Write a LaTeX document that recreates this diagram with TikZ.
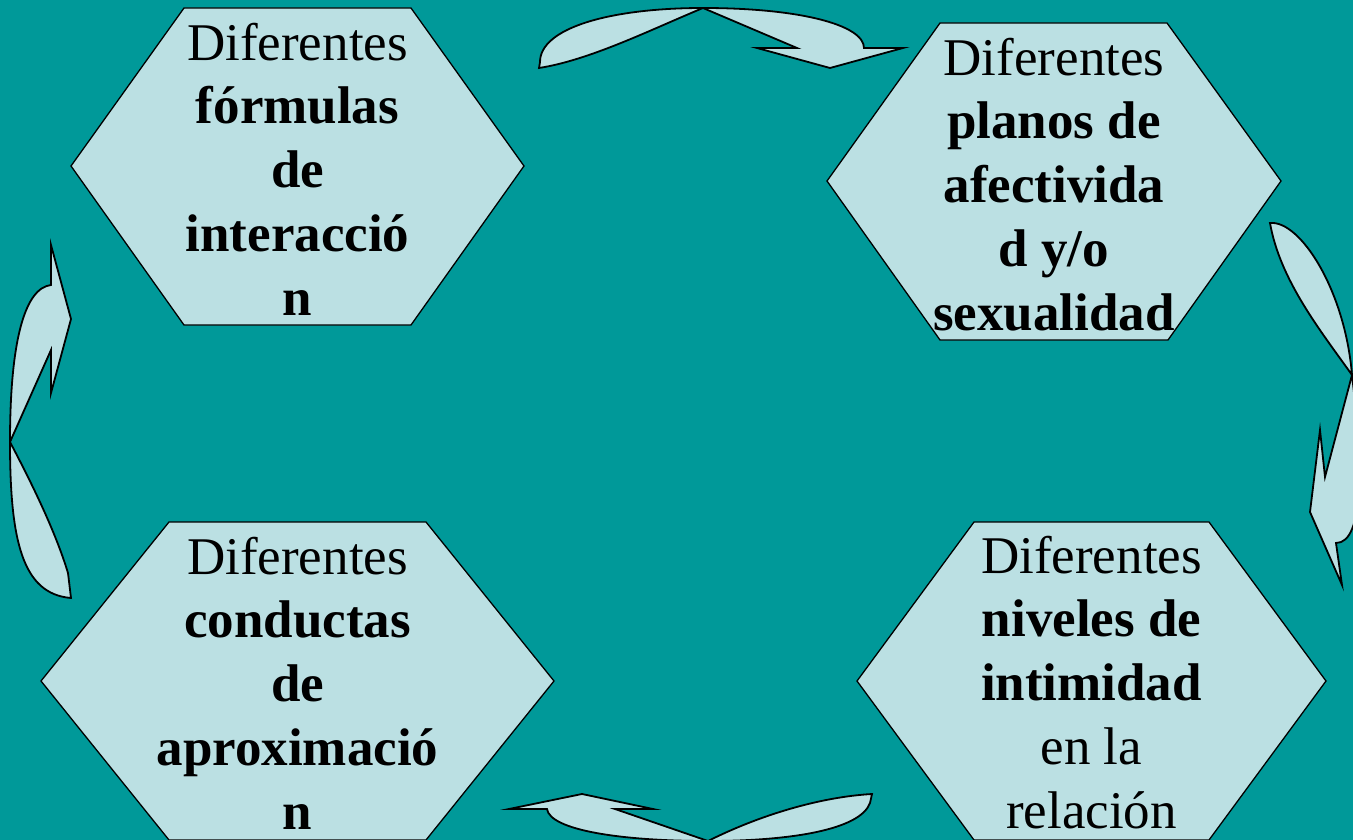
\documentclass[tikz,border=0pt]{standalone}
\usepackage{fontspec}
\setmainfont{Liberation Serif}
\definecolor{bgteal}{HTML}{009999}
\definecolor{shapefill}{HTML}{BBE0E3}
\begin{document}
\begin{tikzpicture}[x=1pt,y=-1pt,
  hexa/.style={fill=shapefill,draw=black,line width=1.3pt,line join=miter},
  arr/.style={fill=shapefill,draw=black,line width=1.8pt,line join=miter},
  lbl/.style={anchor=base,align=center,inner sep=0pt,font=\fontsize{53}{63.8}\selectfont}]
\useasboundingbox (0,0) rectangle (1353,840);
\clip (0,0) rectangle (1353,840);
\fill[bgteal] (0,0) rectangle (1353,840);

% hexagons
\draw[hexa] (71,166) -- (184,8) -- (411,8) -- (524,166) -- (411,325) -- (184,325) -- cycle;
\draw[hexa] (827,181) -- (940,23) -- (1167,23) -- (1281,181) -- (1168,340) -- (940,340) -- cycle;
\draw[hexa] (41,681) -- (169,522) -- (426,522) -- (554,681) -- (426,840) -- (169,840) -- cycle;
\draw[hexa] (857,681) -- (974,522) -- (1209,522) -- (1326,681) -- (1209,840) -- (974,840) -- cycle;

% curved arrows
% top (pointing right)
\draw[arr] (539,68) -- (540,62) .. controls (540,28) and (610,8) .. (703,8)
  .. controls (800,8) and (864,25) .. (864,48) -- (903,48) -- (830,68) -- (757,48) -- (797,48)
  -- (703,8) .. controls (650,30) and (590,60) .. (539,68) -- cycle;
% right (pointing down)
\draw[arr] (1270,223) .. controls (1300,220) and (1345,290) .. (1352,375)
  .. controls (1362,460) and (1365,543) .. (1336,543) -- (1342,585) -- (1310,512) -- (1320,430) -- (1325,477)
  -- (1352,375) .. controls (1320,330) and (1280,280) .. (1270,223) -- cycle;
% bottom (pointing left)
\draw[arr] (872,794) -- (870,803) .. controls (860,830) and (790,841) .. (708,841)
  .. controls (620,841) and (550,830) .. (547,809) -- (509,809) -- (582,794) -- (653,809) -- (615,809)
  -- (708,841) .. controls (760,815) and (820,797) .. (872,794) -- cycle;
% left (pointing up)
\draw[arr] (71,598) .. controls (22,594) and (10,540) .. (10,442)
  .. controls (10,340) and (25,288) .. (51,285) -- (51,245) -- (71,319) -- (51,393) -- (51,350)
  -- (10,442) .. controls (30,480) and (55,530) .. (68,573) -- cycle;

% texts (anchor base = baseline of the last line)
\node[lbl] (formulas) at (297.5,315.2) {Diferentes\\\textbf{fórmulas}\\\textbf{de}\\\textbf{interacció}\\\textbf{n}};
\node[lbl] (planos) at (1054,330.2) {Diferentes\\\textbf{planos de}\\\textbf{afectivida}\\\textbf{d y/o}\\\textbf{sexualidad}};
\node[lbl] (conductas) at (297.5,829.2) {Diferentes\\\textbf{conductas}\\\textbf{de}\\\textbf{aproximació}\\\textbf{n}};
\node[lbl] (niveles) at (1091.5,828.2) {Diferentes\\\textbf{niveles de}\\\textbf{intimidad}\\en la\\relación};
\end{tikzpicture}
\end{document}
